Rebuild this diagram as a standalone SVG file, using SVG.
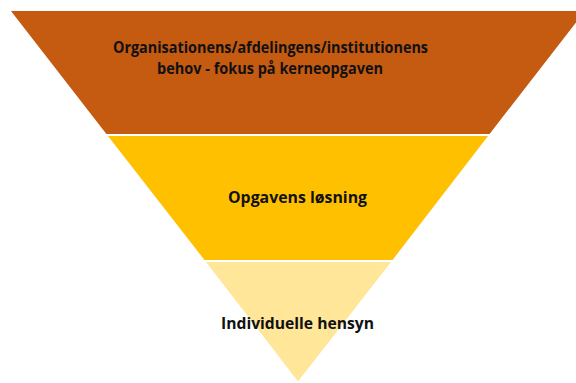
<svg xmlns="http://www.w3.org/2000/svg" width="576" height="383" viewBox="0 0 576 383">
<style>
.band{stroke:#ffffff;stroke-width:2;stroke-linejoin:miter}
.lbl{font-family:"Open Sans","Liberation Sans",sans-serif;font-weight:bold;font-size:16.5px;fill:#111111;text-anchor:middle}
</style>
<rect width="576" height="383" fill="#ffffff"/>
<g id="top-band">
<polygon class="band" points="9,10 587,10 490,135 106,135" fill="#C55A11"/>
<text class="lbl" x="270.5" y="53" textLength="315" lengthAdjust="spacingAndGlyphs">Organisationens/afdelingens/institutionens</text>
<text class="lbl" x="270" y="74" textLength="226" lengthAdjust="spacingAndGlyphs">behov - fokus på kerneopgaven</text>
</g>
<g id="middle-band">
<polygon class="band" points="106,135 490,135 393,261 204,261" fill="#FFC000"/>
<text class="lbl" x="297.5" y="203" textLength="139" lengthAdjust="spacingAndGlyphs">Opgavens løsning</text>
</g>
<g id="bottom-band">
<polygon class="band" points="204,261 393,261 298,383" fill="#FFE699"/>
<text class="lbl" x="297.5" y="329" textLength="153" lengthAdjust="spacingAndGlyphs">Individuelle hensyn</text>
</g>
<g id="connectors"></g>
</svg>
